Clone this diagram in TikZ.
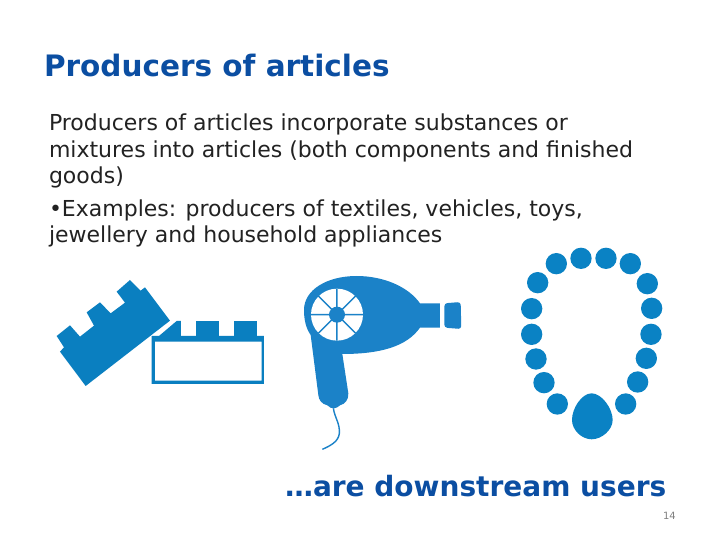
\documentclass[tikz,border=0pt]{standalone}
\usepackage{fontspec}
\setmainfont{DejaVu Sans}
\definecolor{titleblue}{HTML}{0B4EA2}
\definecolor{bodyink}{HTML}{222222}
\definecolor{brickblue}{HTML}{0A7FC0}
\definecolor{dryerblue}{HTML}{1B82C8}
\definecolor{beadblue}{HTML}{0A82C4}
\tikzset{
  txt/.style={anchor=base west,inner sep=0pt,outer sep=0pt},
  bodytxt/.style={txt,text=bodyink,font=\fontsize{22}{22}\selectfont},
  headtxt/.style={txt,text=titleblue,font=\fontsize{28}{28}\selectfont\bfseries},
  bead/.style={fill=beadblue,draw=none}
}
\begin{document}
\begin{tikzpicture}[x=1pt,y=-1pt]
\useasboundingbox (0,0) rectangle (720,540);
\fill[white] (0,0) rectangle (720,540);
\node[headtxt,font=\fontsize{29.5}{29.5}\selectfont\bfseries] (title) at (44,77) {Producers of articles};
\node[bodytxt] (l1) at (49,131) {Producers of articles incorporate substances or};
\node[bodytxt] (l2) at (49,157.5) {mixtures into articles (both components and finished};
\node[bodytxt] (l3) at (49,184) {goods)};
\node[bodytxt] (l4) at (49,216) {•Examples: producers of textiles, vehicles, toys,};
\node[bodytxt] (l5) at (49,242) {jewellery and household appliances};
\node[headtxt] (foot) at (285,496) {…are downstream users};
\node[txt,text=gray,font=\fontsize{10}{10}\selectfont] (page) at (663,519) {14};
% bricks
\begin{scope}[shift={(40pt,-260pt)},x=0.3333pt,y=-0.3333pt]
\fill[brickblue] (50,228)--(90,196)--(120,230)--(162,197)--(140,157)--(180,127)--(212,160)--(255,128)--(230,95)--(270,60)--(302,92)--(315,82)--(390,182)--(137,378)--(60,275)--(72,262)--cycle;
\fill[brickblue,even odd rule] (335,228) rectangle (672,372) (345,245) rectangle (665,362);
\fill[brickblue] (357,228)--(410,183)--(423,183)--(423,228)--cycle;
\fill[brickblue] (468,183) rectangle (538,228);
\fill[brickblue] (582,183) rectangle (652,228);
\end{scope}
% dryer
\begin{scope}[shift={(290pt,-260pt)},x=0.3333pt,y=-0.3333pt]
\fill[dryerblue] (42,150) .. controls (42,90) and (110,48) .. (200,48)
  .. controls (280,48) and (355,80) .. (390,130) -- (450,130) -- (450,203) -- (390,203)
  .. controls (350,260) and (270,282) .. (157,282)
  -- (175,400) .. controls (176,420) and (165,432) .. (150,436)
  .. controls (140,446) and (125,450) .. (112,436)
  .. controls (95,432) and (86,420) .. (85,405)
  -- (62,225) .. controls (48,205) and (42,180) .. (42,150) -- cycle;
\fill[dryerblue,rounded corners=3pt] (463,130) -- (512,126) -- (514,207) -- (463,203) -- cycle;
\fill[white] (141,164) circle (78);
\draw[dryerblue,line width=1.5pt] (62,164)--(220,164) (141,86)--(141,242) (85,108)--(197,220) (85,220)--(197,108);
\fill[dryerblue] (141,164) circle (24);
\draw[dryerblue,line width=1.4pt] (130,445) .. controls (135,475) and (150,490) .. (148,520) .. controls (146,545) and (120,558) .. (97,568);
\end{scope}
% necklace
\begin{scope}[shift={(500pt,-240pt)},x=0.3333pt,y=-0.3333pt]
\foreach \px/\py in {169/71,243/55,318/55,391/71,442/131,455/205,453/283,439/355,413/426,377/492,172/492,132/428,108/357,95/283,95/206,113/128}
  \fill[bead] (\px,\py) circle (32);
\fill[bead] (275,460) .. controls (305,460) and (338,505) .. (338,540)
  .. controls (338,570) and (305,598) .. (275,598)
  .. controls (245,598) and (216,570) .. (216,540)
  .. controls (216,505) and (245,460) .. (275,460) -- cycle;
\end{scope}
\end{tikzpicture}
\end{document}
